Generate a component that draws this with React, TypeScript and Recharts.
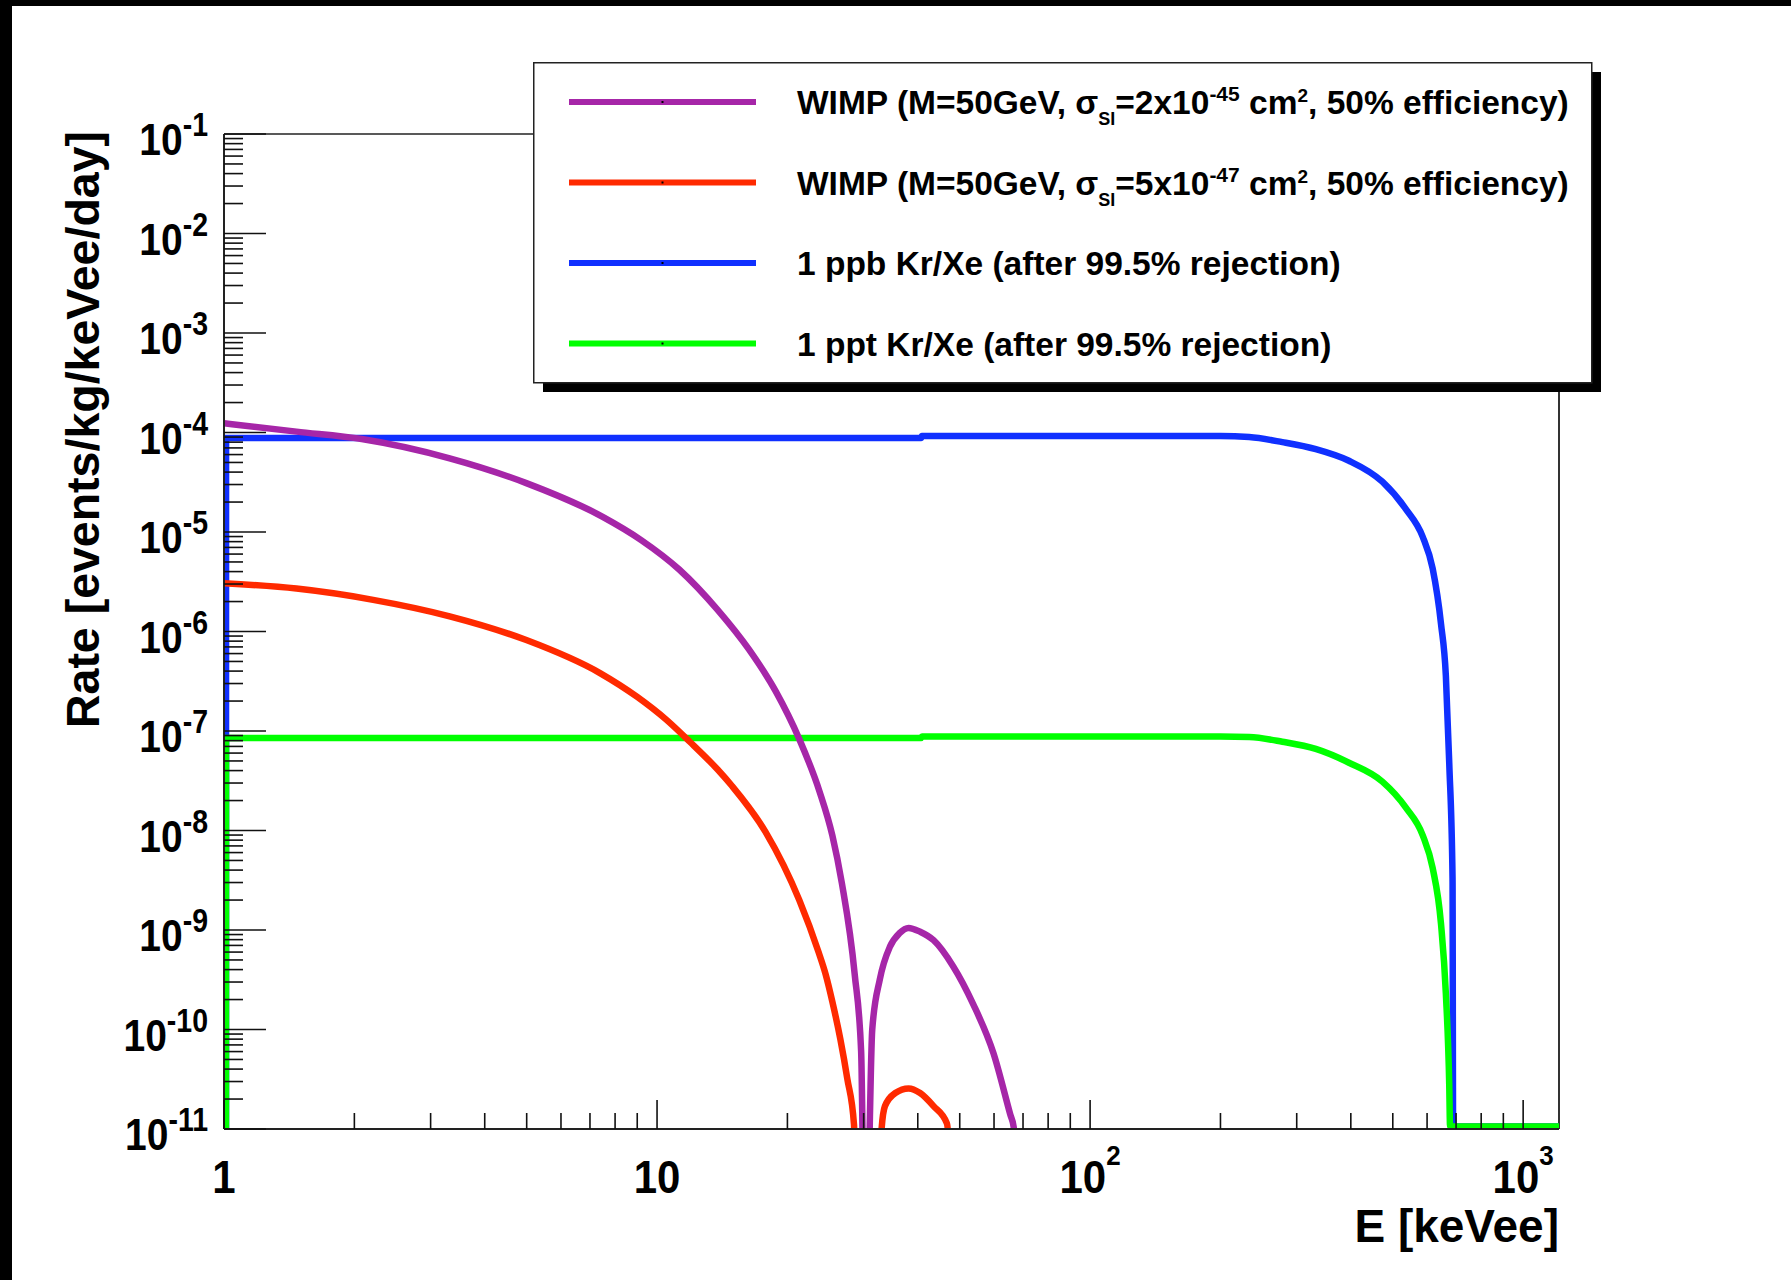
import React from "react"
import { LineChart, Line, XAxis, YAxis, Legend, ReferenceLine } from "recharts"

// energy in keVee, rate in events/kg/keVee/day
const wimpHighEnergy = [1, 1.47, 2.08, 3.32, 4.99, 7.49, 9.19, 11.25, 13.8, 16.3, 18.8, 21.3, 23.7, 25.4, 26.7, 28.6, 29.6, 30.1, 30.5, 31.4, 32.7, 34.5, 36.3, 38.1, 40.5, 43.5, 48.3, 53.7, 59.8, 65.4, 66.6, 68]
const wimpHighRate = [1.24e-4, 1.02e-4, 8.6e-5, 5.5e-5, 3.1e-5, 1.42e-5, 8.3e-6, 4.2e-6, 1.65e-6, 6.6e-7, 2.5e-7, 8.3e-8, 2.5e-8, 8.9e-9, 3.0e-9, 3.6e-10, 6e-11, 1e-12, 1e-12, 1e-10, 3.2e-10, 6.8e-10, 9.3e-10, 1.05e-9, 9.6e-10, 7.9e-10, 4.3e-10, 1.8e-10, 5.8e-11, 1.4e-11, 1.05e-11, 1e-12]

const wimpLowEnergy = [1, 1.47, 2.21, 3.32, 4.99, 7.4, 9.0, 10.5, 11.9, 13.8, 14.9, 17.8, 21.3, 23.6, 24.5, 25.4, 26.5, 27.5, 28.5, 28.8, 32.4, 33.0, 33.6, 35.5, 38.1, 40.5, 43.5, 46.7, 48.2]
const wimpLowRate = [3.05e-6, 2.7e-6, 2.08e-6, 1.42e-6, 8.2e-7, 3.8e-7, 2.2e-7, 1.3e-7, 7.8e-8, 4.1e-8, 2.8e-8, 9.7e-9, 2.0e-9, 6.0e-10, 3.6e-10, 1.9e-10, 8e-11, 3.2e-11, 1.1e-11, 1e-12, 1e-12, 1e-11, 1.7e-11, 2.3e-11, 2.56e-11, 2.3e-11, 1.7e-11, 1.14e-11, 1e-12]

const ppbEnergy = [1.0105, 1.011, 40.7, 40.9, 200, 233, 278, 332, 396, 473, 536, 586, 618, 646, 663, 675, 687, 689, 1215]
const ppbRate = [1e-12, 8.8e-5, 8.8e-5, 9.2e-5, 9.2e-5, 9.0e-5, 8.0e-5, 6.8e-5, 5.2e-5, 3.2e-5, 1.7e-5, 9.0e-6, 4.3e-6, 1.2e-6, 3.6e-7, 4.8e-8, 3.3e-9, 1.06e-11, 1.06e-11]

const pptEnergy = [1.0105, 1.011, 40.7, 40.9, 200, 233, 278, 332, 396, 473, 536, 586, 618, 646, 663, 675, 678, 1215]
const pptRate = [1e-12, 8.5e-8, 8.5e-8, 8.8e-8, 8.8e-8, 8.7e-8, 7.8e-8, 6.6e-8, 4.8e-8, 3.1e-8, 1.7e-8, 9.0e-9, 4.2e-9, 1.16e-9, 2.3e-10, 2.8e-11, 1.06e-11, 1.06e-11]

const xMajorTicks = [1, 10, 100, 1000]
const xMajorLabels = [["1", ""], ["10", ""], ["10", "2"], ["10", "3"]]
const minorSteps = [2, 3, 4, 5, 6, 7, 8, 9]
const yExponents = [-11, -10, -9, -8, -7, -6, -5, -4, -3, -2, -1]

const FONT = "'Liberation Sans', Arial, Helvetica, sans-serif"

const toPoints = (energy: number[], rate: number[]) =>
  energy.map((e, i) => ({ e, rate: rate[i] }))

// drawn in this order (blue under green, WIMPs on top)
const series = [
  { key: "ppb", color: "#1030ff", data: toPoints(ppbEnergy, ppbRate) },
  { key: "ppt", color: "#00ff00", data: toPoints(pptEnergy, pptRate) },
  { key: "wimpLow", color: "#ff2a00", data: toPoints(wimpLowEnergy, wimpLowRate) },
  { key: "wimpHigh", color: "#a626a8", data: toPoints(wimpHighEnergy, wimpHighRate) },
]

const legendOrder = ["wimpHigh", "wimpLow", "ppb", "ppt"]

const xTicks: number[] = []
xMajorTicks.forEach((d) => {
  xTicks.push(d)
  if (d < 1000) minorSteps.forEach((m) => xTicks.push(m * d))
})

const yTicks: number[] = []
yExponents.forEach((k) => {
  const d = Math.pow(10, k)
  yTicks.push(d)
  if (k < -1) minorSteps.forEach((m) => yTicks.push(m * d))
})

function XTick(props: any) {
  const { x, y, payload } = props
  const idx = xMajorTicks.indexOf(payload.value)
  const major = idx >= 0
  return (
    <g>
      <line x1={x} x2={x} y1={y} y2={y - (major ? 29 : 16)} stroke="#111" strokeWidth={1.6} />
      {major && (
        <g transform={`translate(${x}, ${y + 64}) scale(1, 1.08)`}>
          <text x={0} y={0} textAnchor="middle" fontSize={42} fontWeight="bold" fontFamily={FONT} fill="#000">
            {xMajorLabels[idx][0]}
            {xMajorLabels[idx][1] && (
              <tspan dy={-26} fontSize={26}>
                {xMajorLabels[idx][1]}
              </tspan>
            )}
          </text>
        </g>
      )}
    </g>
  )
}

function YTick(props: any) {
  const { x, y, payload } = props
  const lg = Math.log10(payload.value)
  const exp = Math.round(lg)
  const major = Math.abs(lg - exp) < 1e-6
  return (
    <g>
      <line x1={x} x2={x + (major ? 42 : 19)} y1={y} y2={y} stroke="#111" strokeWidth={1.6} />
      {major && (
        <g transform={`translate(${x - 16}, ${y + 21}) scale(1, 1.14)`}>
          <text x={0} y={0} textAnchor="end" fontSize={39} fontWeight="bold" fontFamily={FONT} fill="#000">
            10
            <tspan dy={-16.5} fontSize={28.5}>
              {String(exp)}
            </tspan>
          </text>
        </g>
      )}
    </g>
  )
}

function WimpText({ coef, exp }: { coef: string; exp: string }) {
  return (
    <>
      <tspan>{"WIMP (M=50GeV, σ"}</tspan>
      <tspan dy={11} fontSize={18}>SI</tspan>
      <tspan dy={-11}>{"=" + coef + "x10"}</tspan>
      <tspan dy={-13} fontSize={21}>{exp}</tspan>
      <tspan dy={13}>{" cm"}</tspan>
      <tspan dy={-12} fontSize={19}>2</tspan>
      <tspan dy={12}>{", 50% efficiency)"}</tspan>
    </>
  )
}

const legendLabels: Record<string, React.ReactNode> = {
  wimpHigh: <WimpText coef="2" exp="-45" />,
  wimpLow: <WimpText coef="5" exp="-47" />,
  ppb: "1 ppb Kr/Xe (after 99.5% rejection)",
  ppt: "1 ppt Kr/Xe (after 99.5% rejection)",
}

function LegendBox() {
  return (
    <svg width={1075} height={335}>
      <rect x={10} y={10} width={1058} height={320} fill="#000" />
      <rect x={0.75} y={0.75} width={1058} height={320} fill="#fff" stroke="#222" strokeWidth={1.5} />
      {legendOrder.map((key, i) => {
        const s = series.find((d) => d.key === key)!
        const ly = 40 + i * 80.5
        return (
          <g key={key}>
            <line x1={36} x2={223} y1={ly} y2={ly} stroke={s.color} strokeWidth={6} />
            <rect x={128.5} y={ly - 1} width={2} height={2} fill="#000" />
            <text x={264} y={ly + 12} fontSize={33.5} fontWeight="bold" fontFamily={FONT} fill="#000">
              {legendLabels[key]}
            </text>
          </g>
        )
      })}
    </svg>
  )
}

export default function App() {
  return (
    <div style={{ position: "absolute", left: 0, top: 0, width: 1791, height: 1280, background: "#fff" }}>
      <LineChart width={1791} height={1280} margin={{ top: 134, right: 232, bottom: 150, left: 223 }}>
        <XAxis
          dataKey="e"
          type="number"
          scale="log"
          domain={[1, 1210]}
          allowDataOverflow
          ticks={xTicks}
          interval={0}
          height={1}
          tickSize={0}
          tickMargin={0}
          tickLine={false}
          tick={<XTick />}
          axisLine={{ stroke: "#222", strokeWidth: 2 }}
          label={{
            value: "E [keVee]",
            content: (p: any) => (
              <text
                x={p.viewBox.x + p.viewBox.width}
                y={p.viewBox.y + 113}
                textAnchor="end"
                fontSize={46}
                fontWeight="bold"
                fontFamily={FONT}
                fill="#000"
              >
                E [keVee]
              </text>
            ),
          }}
        />
        <YAxis
          type="number"
          scale="log"
          domain={[1e-11, 0.1]}
          allowDataOverflow
          ticks={yTicks}
          interval={0}
          width={1}
          tickSize={0}
          tickMargin={0}
          tickLine={false}
          tick={<YTick />}
          axisLine={{ stroke: "#222", strokeWidth: 2 }}
          label={{
            value: "Rate [events/kg/keVee/day]",
            content: (p: any) => {
              const tx = p.viewBox.x + p.viewBox.width - 125
              const ty = p.viewBox.y - 3
              return (
                <text
                  x={tx}
                  y={ty}
                  transform={`rotate(-90 ${tx} ${ty})`}
                  textAnchor="end"
                  fontSize={46.5}
                  fontWeight="bold"
                  fontFamily={FONT}
                  fill="#000"
                >
                  Rate [events/kg/keVee/day]
                </text>
              )
            },
          }}
        />
        <ReferenceLine y={0.1} stroke="#222" strokeWidth={1.5} />
        <ReferenceLine x={1210} stroke="#333" strokeWidth={2} />
        {series.map((s) => (
          <Line
            key={s.key}
            data={s.data}
            dataKey="rate"
            name={s.key}
            type="monotoneX"
            stroke={s.color}
            strokeWidth={6.5}
            dot={false}
            activeDot={false}
            isAnimationActive={false}
          />
        ))}
        <Legend
          layout="horizontal"
          verticalAlign="middle"
          align="center"
          wrapperStyle={{ left: 533, top: 62, width: 1075, height: 335 }}
          content={() => <LegendBox />}
        />
      </LineChart>
      <div style={{ position: "absolute", left: 0, top: 0, width: 1791, height: 6, background: "#000" }} />
      <div style={{ position: "absolute", left: 0, top: 0, width: 12, height: 1280, background: "#000" }} />
    </div>
  )
}
